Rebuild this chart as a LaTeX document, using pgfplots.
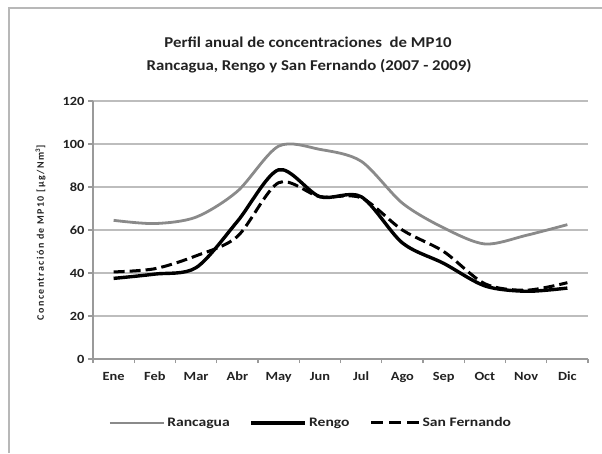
\documentclass[border=0pt]{standalone}
\usepackage{pgfplots}
\pgfplotsset{compat=1.18}
\usepackage{fontspec}
\setmainfont{Carlito}
\definecolor{txt}{HTML}{222222}
\definecolor{ranc}{HTML}{8A8A8A}
\definecolor{gridc}{HTML}{BDBDBD}
\definecolor{axc}{HTML}{9A9A9A}
\newcommand\sx[1]{\scalebox{1.15}[1]{#1}}
\newcommand\sxl[1]{\scalebox{1.2}[1]{#1}}
\pgfplotsset{sflegend/.style={legend image code/.code={\draw[##1, dash pattern=on 12pt off 6pt] (0pt,0pt) -- (48pt,0pt);}}}
\begin{document}
\begin{tikzpicture}
\path[use as bounding box] (0pt,0pt) rectangle (602pt,-453pt);
\draw[axc!70, line width=1.2pt] (9pt,-453pt) -- (9pt,-8pt) -- (602pt,-8pt);
\node[txt, font=\fontsize{15}{17}\selectfont\bfseries] at (308pt,-42pt)
  {\scalebox{1.12}[1]{Perfil anual de concentraciones\ \ de MP10}};
\node[txt, font=\fontsize{15}{17}\selectfont\bfseries] at (309pt,-66pt)
  {\scalebox{1.12}[1]{Rancagua, Rengo y San Fernando (2007 - 2009)}};
\begin{axis}[
  at={(93pt,-359pt)}, anchor=south west,
  scale only axis, width=495pt, height=258pt,
  xmin=-0.5, xmax=11.5, ymin=0, ymax=120,
  xtick={0,...,11},
  xticklabels={\sx{Ene},\sx{Feb},\sx{Mar},\sx{Abr},\sx{May},\sx{Jun},\sx{Jul},\sx{Ago},\sx{Sep},\sx{Oct},\sx{Nov},\sx{Dic}},
  minor xtick={-0.5,0.5,...,11.5},
  ytick={0,20,...,120},
  yticklabel={\sx{\pgfmathprintnumber{\tick}}},
  axis x line*=bottom, axis y line*=left,
  axis line style={axc, line width=1.2pt, -},
  tick align=outside,
  major x tick style={draw=none},
  minor tick length=4pt, major tick length=5pt,
  every tick/.style={axc, line width=1.2pt},
  ymajorgrids, grid style={gridc, line width=1.3pt},
  tick label style={txt, font=\fontsize{12.5}{14}\selectfont\bfseries},
  /pgf/number format/assume math mode=true,
  xticklabel style={text height=9pt, text depth=3pt, yshift=-4pt},
  ylabel={Concentración de MP10 [µg/Nm\textsuperscript{3}]},
  ylabel style={txt, font=\fontsize{10}{11}\selectfont\bfseries\addfontfeature{LetterSpace=14}, anchor=center, at={(axis description cs:-0.106,0.49)}},
  legend columns=3,
  legend style={draw=none, fill=none, at={(axis description cs:0.44,-0.248)}, anchor=center,
    font=\fontsize{13}{15}\selectfont\bfseries, text=txt, nodes={inner xsep=2pt},
    /tikz/every even column/.append style={column sep=18pt}},
  legend image code/.code={\draw[#1] (0pt,0pt) -- (54pt,0pt);},
]
\addplot[ranc, line width=2.8pt, smooth, tension=0.5] coordinates {
(0,64.5) (1,63) (2,66) (3,78) (4,99) (5,97.5) (6,92) (7,72.5) (8,61) (9,53.5) (10,57.5) (11,62.5)};
\addlegendentry{\sxl{Rancagua}}
\addplot[black, line width=3.4pt, smooth, tension=0.5] coordinates {
(0,37.5) (1,39.5) (2,42.5) (3,64) (4,88) (5,75.5) (6,75.5) (7,54) (8,44.5) (9,34) (10,31.5) (11,33)};
\addlegendentry{\sxl{Rengo}}
\addplot[black, line width=3.0pt, smooth, tension=0.5, dash pattern=on 11pt off 5pt, sflegend] coordinates {
(0,40.5) (1,42) (2,48) (3,57) (4,82) (5,75.5) (6,75) (7,60) (8,50) (9,35) (10,32) (11,35.5)};
\addlegendentry{\sxl{San Fernando}}
\end{axis}
\end{tikzpicture}
\end{document}
